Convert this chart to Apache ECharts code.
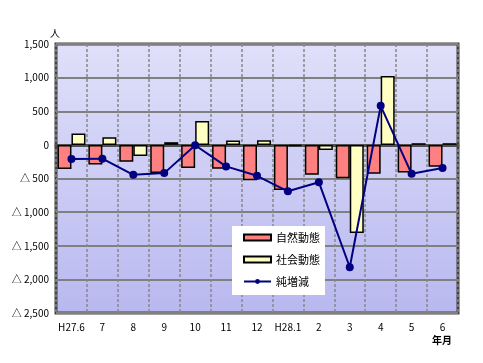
<!DOCTYPE html>
<html><head><meta charset="utf-8">
<script src="https://cdn.jsdelivr.net/npm/echarts@6/dist/echarts.min.js"></script>
<style>html,body{margin:0;padding:0;background:#fff}#c{width:483px;height:363px}</style>
</head><body><div id="c"></div>
<script>
var categories = ['H27.6','7','8','9','10','11','12','H28.1','2','3','4','5','6'];
var natural = [-360, -290, -250, -420, -345, -355, -525, -670, -445, -495, -430, -410, -325];
var social = [170, 115, -165, 40, 355, 65, 70, -15, -75, -1310, 1025, 25, 25];
var net = [-210, -205, -445, -420, -5, -320, -460, -690, -555, -1820, 580, -430, -345];
var yTicks = {min: -2500, max: 1500, interval: 500};

var font = '"Noto Sans CJK JP", sans-serif';
function fmt(v){
  var a = Math.abs(v).toString().replace(/\B(?=(\d{3})+(?!\d))/g, ',');
  return v < 0 ? '△ ' + a : a;
}
var chart = echarts.init(document.getElementById('c'), null, {renderer:'canvas'});
chart.setOption({
  animation: false,
  backgroundColor: '#ffffff',
  grid: {
    left: 56, right: 25, top: 44, bottom: 50, show: true,
    borderColor: '#404040', borderWidth: 3,
    backgroundColor: new echarts.graphic.LinearGradient(0,0,0,1,[{offset:0,color:'#e0e0fa'},{offset:1,color:'#b8b8f0'}])
  },
  legend: {
    orient: 'vertical', left: 232, top: 226,
    backgroundColor: '#ffffff', padding: [6, 5, 8, 11], itemGap: 11,
    itemWidth: 27, itemHeight: 6,
    textStyle: {fontFamily: font, fontSize: 11, color: '#000', fontWeight: 'normal'},
    data: [
      {name: '自然動態', icon: 'rect'},
      {name: '社会動態', icon: 'rect'},
      {name: '純増減'}
    ]
  },
  xAxis: {
    type: 'category', data: categories, boundaryGap: true,
    axisLine: {show: true, onZero: true, lineStyle: {color: '#505050', width: 3}},
    axisTick: {show: false},
    axisLabel: {fontFamily: font, fontSize: 10, color: '#000', margin: 9, interval: 0},
    splitLine: {show: true, interval: 0, lineStyle: {color: '#888888', width: 1.5, type: [3, 2]}}
  },
  yAxis: {
    type: 'value', min: yTicks.min, max: yTicks.max, interval: yTicks.interval,
    axisLine: {show: false}, axisTick: {show: false},
    axisLabel: {fontFamily: font, fontSize: 10, color: '#000', margin: 7, formatter: fmt},
    splitLine: {show: true, lineStyle: {color: '#808080', width: 2}}
  },
  series: [
    {name: '自然動態', type: 'bar', data: natural, barWidth: 14, barGap: '0%',
     itemStyle: {color: '#ff8080', borderColor: '#000', borderWidth: 1.5}},
    {name: '社会動態', type: 'bar', data: social, barWidth: 14,
     itemStyle: {color: '#ffffc4', borderColor: '#000', borderWidth: 1.5}},
    {name: '純増減', type: 'line', data: net, symbol: 'circle', symbolSize: 8,
     lineStyle: {color: '#000080', width: 2}, itemStyle: {color: '#000080'}, z: 5}
  ],
  graphic: [
    {type: 'text', left: 50, top: 28, style: {text: '人', font: '10px ' + font, fill: '#000'}},
    {type: 'text', left: 432, top: 335, style: {text: '年月', font: 'bold 10px ' + font, fill: '#000'}}
  ]
});
</script></body></html>
